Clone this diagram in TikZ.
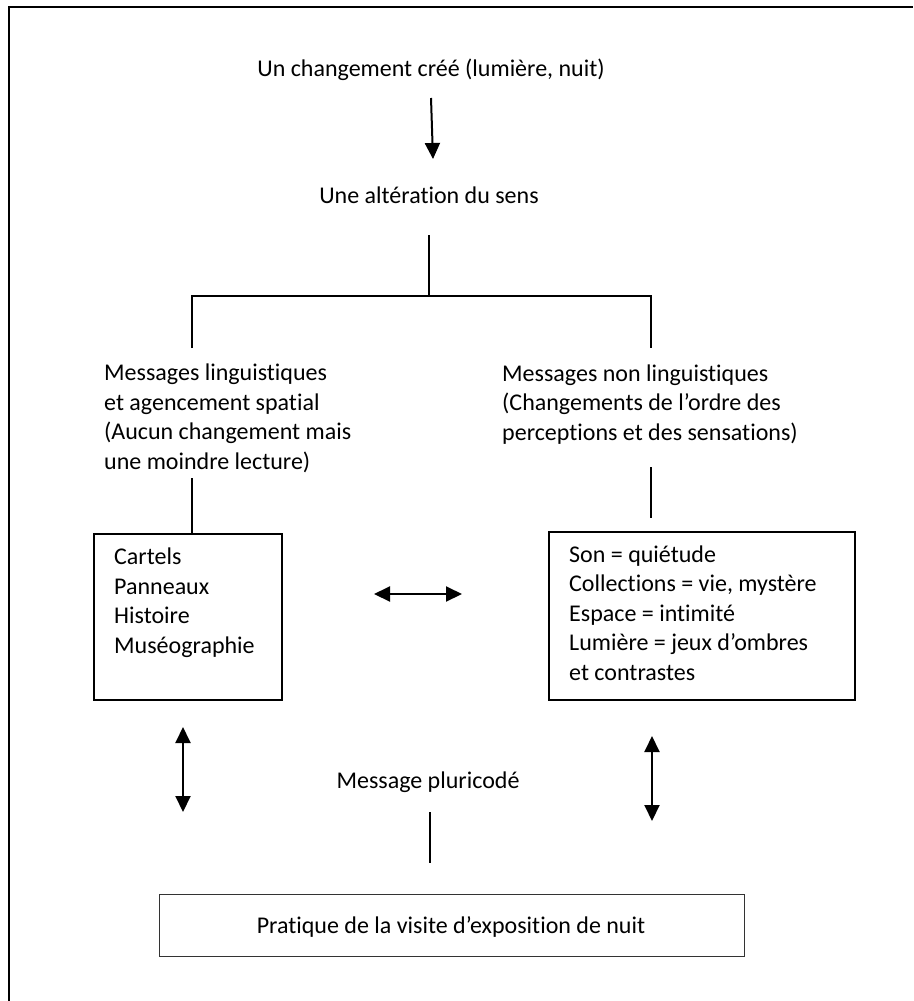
\documentclass[tikz,border=0pt]{standalone}
\usepackage{fontspec}
\setmainfont{Carlito}[Ligatures=NoCommon]
\usetikzlibrary{arrows.meta}
\begin{document}
\begin{tikzpicture}[x=1pt,y=-1pt,
  txt/.style={inner sep=0pt, font=\fontsize{24}{29.5}\selectfont},
  mltxt/.style={txt, align=left, anchor=base west},
  boxframe/.style={draw, line width=2pt, inner sep=0pt, anchor=north west},
  tree/.style={line width=2.8pt},
  arr/.style={line width=2pt, -{Triangle[width=15pt,length=16pt]}},
  darr/.style={line width=2pt, {Triangle[width=15pt,length=16pt]}-{Triangle[width=15pt,length=16pt]}}
]
\useasboundingbox (0,0) rectangle (913,1001);
% outer frame (cut off at right and bottom)
\draw[line width=2.6pt] (9,1001) -- (9,7) -- (913,7);

% texts (multi-line nodes: base anchor = baseline of last line)
\node[txt, anchor=base] (top) at (431,76) {Un changement créé (lumière, nuit)};
\node[txt, anchor=base] (mid) at (429,203) {Une altération du sens};
\node[mltxt] (ling) at (104,469) {Messages linguistiques\\et agencement spatial\\(Aucun changement mais\\une moindre lecture)};
\node[mltxt] (nonling) at (502,440) {Messages non linguistiques\\(Changements de l’ordre des\\perceptions et des sensations)};

% boxes
\node[boxframe, minimum width=188pt, minimum height=166pt] (lbox) at (93,533) {};
\node[mltxt] (ltext) at (114,653) {Cartels\\Panneaux\\Histoire\\Muséographie};
\node[boxframe, minimum width=306pt, minimum height=168pt] (rbox) at (548,531) {};
\node[mltxt] (rtext) at (569,680) {Son = quiétude\\Collections = vie, mystère\\Espace = intimité\\Lumière = jeux d’ombres\\et contrastes};

\node[txt, anchor=base] (pluri) at (428,788) {Message pluricodé};
\node[boxframe, line width=1.4pt, draw=black!80, minimum width=585pt, minimum height=62pt] (bbox) at (159,894) {};
\node[txt, anchor=base] (btext) at (451,933) {Pratique de la visite d’exposition de nuit};

% coordinates
\coordinate (a1) at (431,98);
\coordinate (a2) at (433,159);
\coordinate (t0) at (429,235);
\coordinate (t1) at (429,296);
\coordinate (tl) at (192,296);
\coordinate (tr) at (651,296);
\coordinate (tl2) at (192,348);
\coordinate (tr2) at (651,348);
\coordinate (l1) at (192,478);
\coordinate (l2) at (192,533);
\coordinate (r1) at (651,467);
\coordinate (r2) at (651,518);
\coordinate (h1) at (374,594);
\coordinate (h2) at (462,594);
\coordinate (lv1) at (183,727);
\coordinate (lv2) at (183,812);
\coordinate (rv1) at (652,736);
\coordinate (rv2) at (652,821);
\coordinate (p1) at (430,812);
\coordinate (p2) at (430,863);

% connectors
\draw[arr] (a1) -- (a2);
\draw[tree] (t0) -- (t1);
\draw[tree] (tl2) -- (tl) -- (tr) -- (tr2);
\draw[tree] (l1) -- (l2);
\draw[tree] (r1) -- (r2);
\draw[darr] (h1) -- (h2);
\draw[darr] (lv1) -- (lv2);
\draw[darr] (rv1) -- (rv2);
\draw[tree] (p1) -- (p2);
\end{tikzpicture}
\end{document}
